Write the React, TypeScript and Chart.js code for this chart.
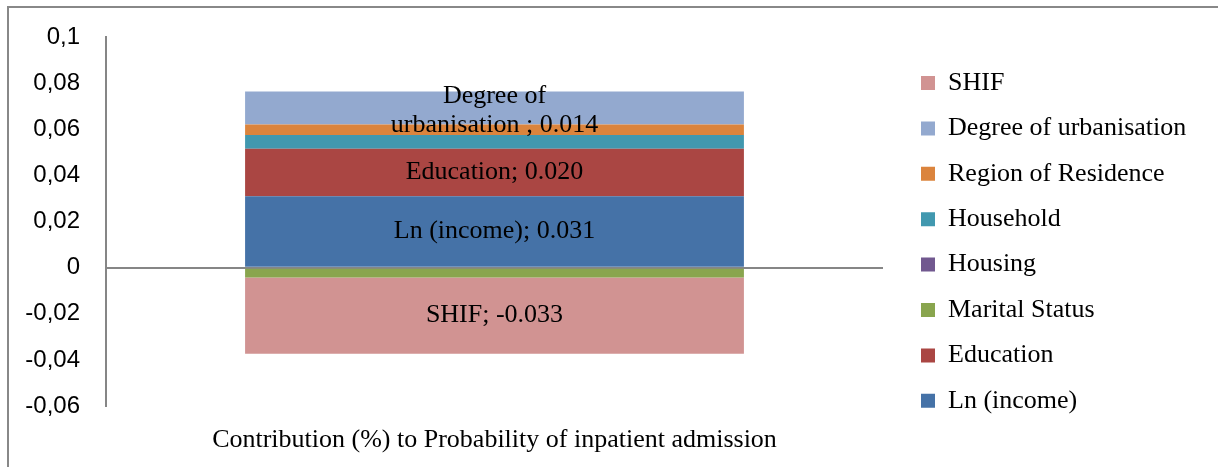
import React, { useEffect, useRef } from "react";
import { Chart, registerables } from "chart.js";

Chart.register(...registerables);

const categories = ["Contribution (%) to Probability of inpatient admission"];
const seriesNames = [
  "Ln (income)",
  "Education",
  "Marital Status",
  "Housing",
  "Household",
  "Region of Residence",
  "Degree of urbanisation",
  "SHIF",
];
const seriesValues = [0.031, 0.0205, -0.0043, 0.0, 0.006, 0.0046, 0.0143, -0.033];
const seriesColors = [
  "#4572A7",
  "#AA4643",
  "#89A54E",
  "#71588F",
  "#4198AF",
  "#DB843D",
  "#93A9CF",
  "#D19392",
];
const segmentLabels: (string[] | null)[] = [
  ["Ln (income); 0.031"],
  ["Education; 0.020"],
  null,
  null,
  null,
  null,
  ["Degree of", "urbanisation ; 0.014"],
  ["SHIF; -0.033"],
];
const yMin = -0.06;
const yMax = 0.1;
const yStep = 0.02;

const SERIF = "'Liberation Serif', 'Times New Roman', serif";
const SANS = "'Liberation Sans', Arial, sans-serif";

const LEGEND_W = 321;
const LEGEND_PAD = 19.4;

const segmentLabelPlugin = {
  id: "segmentLabels",
  afterDatasetsDraw(chart: any) {
    const ctx = chart.ctx;
    ctx.save();
    ctx.font = `26px ${SERIF}`;
    ctx.fillStyle = "#000";
    ctx.textAlign = "center";
    ctx.textBaseline = "middle";
    chart.data.datasets.forEach((ds: any, i: number) => {
      const lines = segmentLabels[i];
      if (!lines) return;
      const meta = chart.getDatasetMeta(i);
      meta.data.forEach((el: any) => {
        const lh = 29;
        const cy = (el.y + el.base) / 2 + (lines.length > 1 ? 3 : 0);
        const startY = cy - ((lines.length - 1) * lh) / 2;
        lines.forEach((t, k) => ctx.fillText(t, el.x, startY + k * lh));
      });
    });
    ctx.restore();
  },
};

const legendPlacePlugin = {
  id: "legendPlace",
  beforeLayout(chart: any) {
    const lg = chart.legend;
    if (lg && !lg.__patched) {
      const orig = lg.fit.bind(lg);
      lg.fit = function () {
        orig();
        this.width = LEGEND_W;
      };
      lg.__patched = true;
    }
  },
  afterLayout(chart: any) {
    const lg = chart.legend;
    if (!lg) return;
    const left = 912 - LEGEND_PAD;
    const top = 62 - LEGEND_PAD;
    const w = lg.width;
    const h = lg.height;
    lg.left = left;
    lg.right = left + w;
    lg.top = top;
    lg.bottom = top + h;
  },
};

export default function App() {
  const ref = useRef<HTMLCanvasElement | null>(null);
  useEffect(() => {
    if (!ref.current) return;
    const chart = new Chart(ref.current, {
      type: "bar",
      data: {
        labels: categories,
        datasets: seriesNames.map((name, i) => ({
          label: name,
          data: [seriesValues[i]],
          backgroundColor: seriesColors[i],
          borderWidth: 0,
          barPercentage: 0.642,
          categoryPercentage: 1,
        })),
      },
      options: {
        animation: false,
        responsive: false,
        maintainAspectRatio: false,
        layout: { padding: { top: 29, left: 0, right: 0, bottom: 0 } },
        plugins: {
          legend: {
            position: "right",
            align: "start",
            reverse: true,
            labels: {
              boxWidth: 14,
              boxHeight: 14,
              padding: LEGEND_PAD,
              color: "#000",
              font: { family: SERIF, size: 26 },
            },
          },
          tooltip: { enabled: false },
        },
        scales: {
          x: {
            stacked: true,
            grid: { display: false },
            border: { display: false },
            ticks: {
              color: "#000",
              font: { family: SERIF, size: 26 },
              padding: 11,
            },
            afterFit: (s: any) => {
              s.height = 61;
            },
          },
          y: {
            stacked: true,
            min: yMin,
            max: yMax,
            grid: {
              drawTicks: false,
              lineWidth: 2,
              color: (c: any) => (c.tick && c.tick.value === 0 ? "#868686" : "rgba(0,0,0,0)"),
            },
            border: { color: "#868686", width: 2 },
            ticks: {
              stepSize: yStep,
              padding: 26,
              color: "#000",
              font: { family: SANS, size: 24 },
              callback: (v: any) => String(Number(Number(v).toFixed(2))).replace(".", ","),
            },
            afterFit: (s: any) => {
              s.width = 97;
              s.paddingTop = 0;
              s.paddingBottom = 0;
            },
          },
        },
      },
      plugins: [legendPlacePlugin, segmentLabelPlugin],
    } as any);
    return () => chart.destroy();
  }, []);
  return (
    <div
      style={{
        position: "absolute",
        left: 7,
        top: 6,
        width: 1211,
        height: 461,
        borderTop: "2px solid #888888",
        borderLeft: "2px solid #888888",
        boxSizing: "border-box",
        background: "#fff",
      }}
    >
      <canvas ref={ref} width={1195} height={459} style={{ display: "block" }} />
    </div>
  );
}
